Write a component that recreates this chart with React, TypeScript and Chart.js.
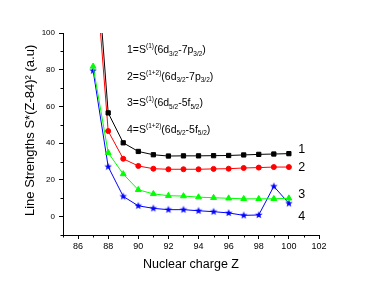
import React, { useEffect, useRef } from 'react';
import { Chart, registerables } from 'chart.js';

Chart.register(...registerables);

const Z = [87, 88, 89, 90, 91, 92, 93, 94, 95, 96, 97, 98, 99, 100];
const S1 = [165, 56.5, 40.2, 35.5, 33.7, 33.0, 33.1, 33.1, 33.2, 33.3, 33.6, 33.9, 34.1, 34.3];
const S2 = [152, 46.6, 31.5, 27.6, 26.1, 25.8, 25.8, 25.8, 26.0, 26.1, 26.5, 26.7, 27.0, 27.0];
const S3 = [81.8, 34.8, 23.2, 14.6, 12.4, 11.4, 11.2, 10.6, 10.3, 10.0, 9.7, 9.7, 9.7, 10.0];
const S4 = [79.5, 27.2, 11.0, 5.9, 4.5, 3.8, 3.8, 3.2, 2.7, 2.0, 0.7, 0.9, 16.5, 7.2];

const X_MAJOR = [86, 88, 90, 92, 94, 96, 98, 100, 102];
const X_MINOR = [85, 87, 89, 91, 93, 95, 97, 99, 101];
const Y_MAJOR = [0, 20, 40, 60, 80, 100];
const Y_MINOR = [-10, 10, 30, 50, 70, 90];

const END_LABELS = ['1', '2', '3', '4'];
const END_LABEL_X = 100.85;
const END_LABEL_Y = [36.8, 27.0, 12.1, 0.2];

const LEGEND = [
  { n: '1=S', sup: '(1)', a: '(6d', as: '3/2', b: '-7p', bs: '3/2' },
  { n: '2=S', sup: '(1+2)', a: '(6d', as: '3/2', b: '-7p', bs: '3/2' },
  { n: '3=S', sup: '(1)', a: '(6d', as: '5/2', b: '-5f', bs: '5/2' },
  { n: '4=S', sup: '(1+2)', a: '(6d', as: '5/2', b: '-5f', bs: '5/2' },
];

const FONT = '"Liberation Sans", Arial, Helvetica, sans-serif';

function makeStar(color: string, r: number): HTMLCanvasElement {
  const size = Math.ceil(r * 2 + 2);
  const c = document.createElement('canvas');
  c.width = size;
  c.height = size;
  const g = c.getContext('2d')!;
  const cx = size / 2;
  const cy = size / 2;
  g.beginPath();
  for (let i = 0; i < 10; i++) {
    const rad = i % 2 === 0 ? r : r * 0.42;
    const ang = -Math.PI / 2 + (i * Math.PI) / 5;
    const px = cx + rad * Math.cos(ang);
    const py = cy + rad * Math.sin(ang);
    if (i === 0) g.moveTo(px, py);
    else g.lineTo(px, py);
  }
  g.closePath();
  g.fillStyle = color;
  g.fill();
  return c;
}

const overlayPlugin = {
  id: 'overlay',
  afterDraw(chart: any) {
    const { ctx, chartArea, scales } = chart;
    const xs = scales.x;
    const ys = scales.y;
    ctx.save();
    ctx.strokeStyle = '#000';
    ctx.lineWidth = 1;
    ctx.beginPath();
    X_MINOR.forEach((v) => {
      const px = Math.round(xs.getPixelForValue(v)) + 0.5;
      ctx.moveTo(px, chartArea.bottom);
      ctx.lineTo(px, chartArea.bottom + 2.5);
    });
    Y_MINOR.forEach((v) => {
      const py = Math.round(ys.getPixelForValue(v)) + 0.5;
      ctx.moveTo(chartArea.left, py);
      ctx.lineTo(chartArea.left - 2.5, py);
    });
    ctx.stroke();

    ctx.fillStyle = '#000';
    ctx.font = `12.5px ${FONT}`;
    ctx.textAlign = 'center';
    ctx.textBaseline = 'middle';
    END_LABELS.forEach((t, i) => {
      ctx.fillText(t, xs.getPixelForValue(END_LABEL_X), ys.getPixelForValue(END_LABEL_Y[i]));
    });

    ctx.textAlign = 'left';
    ctx.textBaseline = 'alphabetic';
    const x0 = chartArea.left + 64;
    const y0 = chartArea.top + 20;
    const main = `10.5px ${FONT}`;
    const small = `6.5px ${FONT}`;
    LEGEND.forEach((L, i) => {
      let x = x0;
      const y = y0 + i * 26.6;
      const put = (t: string, f: string, dy: number) => {
        ctx.font = f;
        ctx.fillText(t, x, y + dy);
        x += ctx.measureText(t).width;
      };
      put(L.n, main, 0);
      put(L.sup, small, -5);
      put(L.a, main, 0);
      put(L.as, small, 2.5);
      put(L.b, main, 0);
      put(L.bs, small, 2.5);
      put(')', main, 0);
    });
    ctx.restore();
  },
};

export default function App() {
  const ref = useRef<HTMLCanvasElement | null>(null);

  useEffect(() => {
    if (!ref.current) return;
    const star = makeStar('#0000ff', 4);
    const mk = (vals: number[], color: string, style: any, radius: number) => ({
      data: Z.map((z, i) => ({ x: z, y: vals[i] })),
      borderColor: color,
      backgroundColor: color,
      borderWidth: 1,
      pointStyle: style,
      pointRadius: radius,
      pointBorderWidth: 1,
      pointBorderColor: color,
      pointBackgroundColor: color,
      tension: 0,
    });
    const chart = new Chart(ref.current, {
      type: 'line',
      data: {
        datasets: [
          mk(S1, '#000000', 'rect', 3.0),
          mk(S2, '#ff0000', 'circle', 2.5),
          mk(S3, '#00ff00', 'triangle', 3.4),
          mk(S4, '#0000ff', star, 4),
        ],
      },
      options: {
        responsive: false,
        animation: false,
        devicePixelRatio: 1,
        layout: { padding: { left: 0, top: 33, right: 55, bottom: 0 } },
        plugins: { legend: { display: false }, tooltip: { enabled: false } },
        scales: {
          x: {
            type: 'linear',
            min: 85,
            max: 102,
            afterBuildTicks: (s: any) => {
              s.ticks = X_MAJOR.map((v) => ({ value: v }));
            },
            afterFit: (s: any) => {
              s.height = 51;
            },
            grid: { display: true, drawOnChartArea: false, drawTicks: true, tickLength: 4, color: '#000', tickColor: '#000' },
            border: { display: true, color: '#000', width: 1 },
            ticks: { color: '#000', font: { size: 9, family: FONT }, padding: 2, maxRotation: 0, autoSkip: false, callback: (v: any) => String(v) },
            title: { display: true, text: 'Nuclear charge Z', color: '#000', font: { size: 12.5, family: FONT }, padding: { top: 0, bottom: 13.5 } },
          },
          y: {
            type: 'linear',
            min: -10,
            max: 100,
            afterBuildTicks: (s: any) => {
              s.ticks = Y_MAJOR.map((v) => ({ value: v }));
            },
            afterFit: (s: any) => {
              s.width = 63;
            },
            grid: { display: true, drawOnChartArea: false, drawTicks: true, tickLength: 4, color: '#000', tickColor: '#000' },
            border: { display: true, color: '#000', width: 1 },
            ticks: { color: '#000', font: { size: 8, family: FONT }, padding: 4, autoSkip: false, callback: (v: any) => String(v) },
            title: { display: true, text: '  Line Strengths S*(Z-84)² (a.u)', color: '#000', font: { size: 13, family: FONT }, padding: { top: 23, bottom: 0 } },
          },
        },
      },
      plugins: [overlayPlugin],
    });
    return () => chart.destroy();
  }, []);

  return (
    <div style={{ position: 'absolute', left: 0, top: 0, width: 374, height: 286, background: '#fff' }}>
      <canvas ref={ref} width={374} height={286} style={{ width: 374, height: 286, display: 'block' }} />
    </div>
  );
}
